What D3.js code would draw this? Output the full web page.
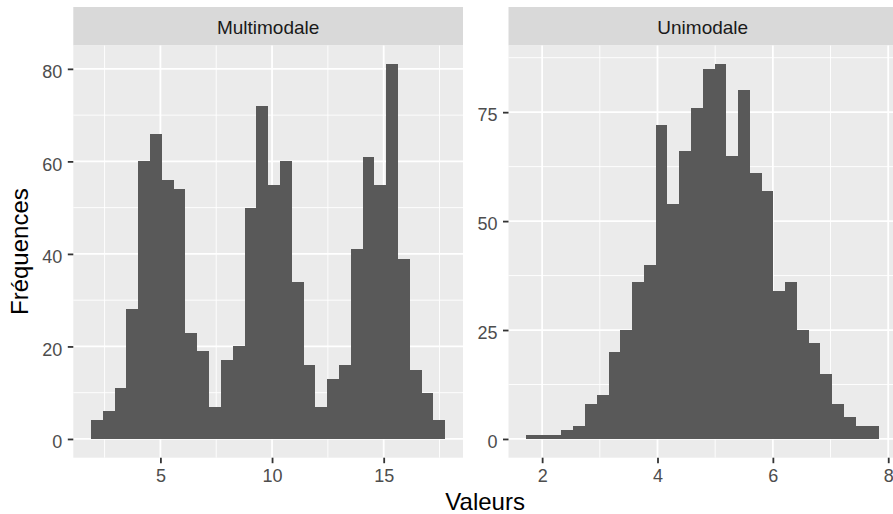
<!DOCTYPE html>
<html>
<head>
<meta charset="utf-8">
<script src="https://cdn.jsdelivr.net/npm/d3@7"></script>
<style>
  body { margin: 0; background: #fff; overflow: hidden; }
  text { font-family: "Liberation Sans", Arial, Helvetica, sans-serif; }
</style>
</head>
<body>
<svg id="chart" width="893" height="514"></svg>
<script>
// Facet titles
const panelNames = ["Multimodale", "Unimodale"];

// Histogram counts (30 bins each), bin start and bin width
const multiCounts = [4, 6, 11, 28, 60, 66, 56, 54, 23, 19, 7, 17, 20, 50, 72, 55, 60, 34, 16, 7, 13, 16, 41, 61, 55, 81, 39, 15, 10, 4];
const multiStart = 1.892;
const multiWidth = 0.5289;

const uniCounts = [1, 1, 1, 2, 3, 8, 10, 20, 25, 36, 40, 72, 54, 66, 76, 85, 86, 65, 80, 61, 57, 34, 36, 25, 22, 15, 8, 5, 3, 3];
const uniStart = 1.723;
const uniWidth = 0.2041;

// Axis breaks
const multiXTicks = [5, 10, 15];
const multiYTicks = [0, 20, 40, 60, 80];
const uniXTicks = [2, 4, 6, 8];
const uniYTicks = [0, 25, 50, 75];

const xTitle = "Valeurs";
const yTitle = "Fréquences";

const svg = d3.select("#chart");

const layout = {
  top: 45.5, bottom: 457.7, stripTop: 7,
  panels: [{ left: 73.3, right: 463 }, { left: 508.5, right: 897 }]
};

// minor breaks halfway between major breaks, as ggplot2 does
function minorBreaks(ticks, domain) {
  const step = ticks[1] - ticks[0];
  const out = [];
  for (let v = ticks[0] - step / 2; v <= domain[1]; v += step) {
    if (v >= domain[0]) out.push(v);
  }
  return out;
}

function expand(lo, hi) {
  const pad = (hi - lo) * 0.05;
  return [lo - pad, hi + pad];
}

function drawPanel(name, counts, start, width, xTicks, yTicks, box) {
  const bins = counts.map((c, i) => ({ x0: start + i * width, x1: start + (i + 1) * width, n: c }));
  const xDom = expand(start, start + counts.length * width);
  const yDom = expand(0, d3.max(counts));
  const x = d3.scaleLinear().domain(xDom).range([box.left, box.right]);
  const y = d3.scaleLinear().domain(yDom).range([layout.bottom, layout.top]);

  const g = svg.append("g");

  // strip
  g.append("rect")
    .attr("x", box.left).attr("y", layout.stripTop)
    .attr("width", box.right - box.left).attr("height", layout.top - layout.stripTop)
    .attr("fill", "#D9D9D9");
  g.append("text")
    .attr("x", (box.left + box.right) / 2).attr("y", 33.8)
    .attr("text-anchor", "middle").attr("font-size", 19).attr("fill", "#1A1A1A")
    .text(name);

  // panel background
  g.append("rect")
    .attr("x", box.left).attr("y", layout.top)
    .attr("width", box.right - box.left).attr("height", layout.bottom - layout.top)
    .attr("fill", "#EBEBEB");

  // minor grid
  g.selectAll(".xminor").data(minorBreaks(xTicks, xDom)).join("line")
    .attr("x1", d => x(d)).attr("x2", d => x(d))
    .attr("y1", layout.top).attr("y2", layout.bottom)
    .attr("stroke", "#fff").attr("stroke-width", 0.9);
  g.selectAll(".yminor").data(minorBreaks(yTicks, yDom)).join("line")
    .attr("y1", d => y(d)).attr("y2", d => y(d))
    .attr("x1", box.left).attr("x2", box.right)
    .attr("stroke", "#fff").attr("stroke-width", 0.9);

  // major grid
  g.selectAll(".xmajor").data(xTicks).join("line")
    .attr("x1", d => x(d)).attr("x2", d => x(d))
    .attr("y1", layout.top).attr("y2", layout.bottom)
    .attr("stroke", "#fff").attr("stroke-width", 1.8);
  g.selectAll(".ymajor").data(yTicks).join("line")
    .attr("y1", d => y(d)).attr("y2", d => y(d))
    .attr("x1", box.left).attr("x2", box.right)
    .attr("stroke", "#fff").attr("stroke-width", 1.8);

  // histogram bars
  g.selectAll(".bar").data(bins).join("rect")
    .attr("x", d => x(d.x0)).attr("width", d => x(d.x1) - x(d.x0))
    .attr("y", d => y(d.n)).attr("height", d => y(0) - y(d.n))
    .attr("fill", "#595959").attr("shape-rendering", "crispEdges");

  // axes
  const xAxis = d3.axisBottom(x).tickValues(xTicks).tickSize(5.5).tickPadding(6).tickFormat(d3.format("d"));
  const xg = g.append("g").attr("transform", `translate(0,${layout.bottom})`).call(xAxis);
  const yAxis = d3.axisLeft(y).tickValues(yTicks).tickSize(5.5).tickPadding(5.5).tickFormat(d3.format("d"));
  const yg = g.append("g").attr("transform", `translate(${box.left},0)`).call(yAxis);
  [xg, yg].forEach(a => {
    a.select(".domain").remove();
    a.selectAll(".tick line").attr("stroke", "#333333").attr("stroke-width", 1.8);
    a.selectAll(".tick text").attr("fill", "#4D4D4D").attr("font-size", 18)
      .attr("font-family", "\"Liberation Sans\", Arial, Helvetica, sans-serif");
  });
  yg.selectAll(".tick text").attr("dy", "0.48em");
}

drawPanel(panelNames[0], multiCounts, multiStart, multiWidth, multiXTicks, multiYTicks, layout.panels[0]);
drawPanel(panelNames[1], uniCounts, uniStart, uniWidth, uniXTicks, uniYTicks, layout.panels[1]);

// axis titles
svg.append("text")
  .attr("x", (layout.panels[0].left + layout.panels[1].right) / 2).attr("y", 509.5)
  .attr("text-anchor", "middle").attr("font-size", 24).attr("fill", "#000")
  .text(xTitle);
svg.append("text")
  .attr("transform", `translate(27.5,${(layout.top + layout.bottom) / 2}) rotate(-90)`)
  .attr("text-anchor", "middle").attr("font-size", 24).attr("fill", "#000")
  .text(yTitle);
</script>
</body>
</html>
